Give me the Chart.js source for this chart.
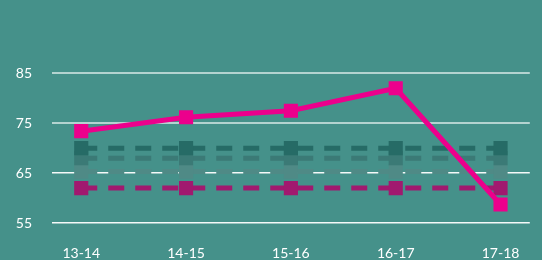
<!DOCTYPE html>
<html>
<head>
<meta charset="utf-8">
<style>
  html, body { margin: 0; padding: 0; background: #45918a; }
  #wrap { width: 542px; height: 260px; }
</style>
</head>
<body>
<div id="wrap"><canvas id="chart"></canvas></div>
<script src="https://cdn.jsdelivr.net/npm/chart.js"></script>
<script>
const years = ['13-14', '14-15', '15-16', '16-17', '17-18'];
const mainValues = [73.4, 76.2, 77.5, 82, 58.7];
const darkValues = [70, 70, 70, 70, 70];
const midValues = [68, 68, 68, 68, 68];
const lightValues = [65.3, 65.3, 65.3, 65.3, 65.3];
const pinkValues = [62, 62, 62, 62, 62];
const yTicks = [55, 65, 75, 85];

const toPoints = (vals) => vals.map((v, i) => ({ x: i, y: v }));

const dashed = (vals, color) => ({
  data: toPoints(vals),
  borderColor: color,
  backgroundColor: color,
  borderWidth: 5,
  borderDash: [16, 11],
  pointStyle: 'rect',
  pointRadius: 10,
  pointHoverRadius: 10,
  pointBorderWidth: 0,
  tension: 0
});

new Chart(document.getElementById('chart'), {
  type: 'line',
  data: {
    datasets: [
      {
        data: toPoints(mainValues),
        borderColor: '#ec008c',
        backgroundColor: '#ec008c',
        borderWidth: 5,
        pointStyle: 'rect',
        pointRadius: 10,
        pointHoverRadius: 10,
        pointBorderWidth: 0,
        tension: 0
      },
      dashed(darkValues, '#266b66'),
      dashed(midValues, '#3b7a76'),
      dashed(lightValues, '#4f8a86'),
      dashed(pinkValues, '#a1196f')
    ]
  },
  options: {
    responsive: true,
    maintainAspectRatio: false,
    animation: false,
    events: [],
    layout: { padding: { left: 0, right: 0, top: 23, bottom: 0 } },
    plugins: { legend: { display: false }, tooltip: { enabled: false } },
    scales: {
      x: {
        type: 'linear',
        min: -0.279,
        max: 4.279,
        afterBuildTicks: (scale) => { scale.ticks = years.map((y, i) => ({ value: i })); },
        afterFit: (scale) => { scale.height = 37; },
        ticks: {
          autoSkip: false,
          maxRotation: 0,
          color: '#ffffff',
          font: { family: 'Lato', size: 14 },
          padding: 22,
          callback: (v) => years[v]
        },
        grid: { display: false, drawTicks: false },
        border: { display: false }
      },
      y: {
        min: 55,
        max: 94,
        afterBuildTicks: (scale) => { scale.ticks = yTicks.map((v) => ({ value: v })); },
        afterFit: (scale) => { scale.width = 52; },
        ticks: {
          color: '#ffffff',
          font: { family: 'Lato', size: 14 },
          padding: 20
        },
        grid: {
          color: (ctx) => (ctx.tick && ctx.tick.value >= 75 ? 'rgba(255,255,255,0.6)' : 'rgba(255,255,255,0.95)'),
          lineWidth: (ctx) => (ctx.tick && ctx.tick.value >= 75 ? 2 : 1.5),
          drawTicks: false
        },
        border: { display: false }
      }
    }
  }
});
</script>
</body>
</html>
